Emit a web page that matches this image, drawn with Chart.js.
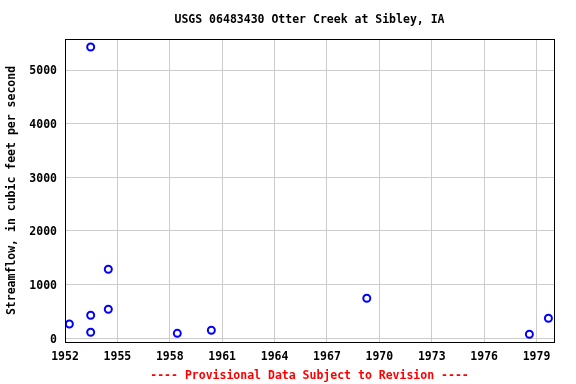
<!DOCTYPE html>
<html>
<head>
<meta charset="utf-8">
<script src="https://cdn.jsdelivr.net/npm/chart.js@4/dist/chart.umd.min.js"></script>
<style>
  body { margin: 0; background: #fff; }
  #peakcanvas { display: block; }
</style>
</head>
<body>
<canvas id="peakcanvas" width="576" height="384"></canvas>
<script>
// peak streamflow, water year (decimal) and cfs
const peakYears = [1952.25, 1953.47, 1953.47, 1953.47, 1954.48, 1954.48, 1958.43, 1960.38, 1969.28, 1978.59, 1979.68];
const peakFlows = [267, 5429, 429, 112, 1287, 541, 93, 149, 746, 75, 373];
const yearTicks = [1952, 1955, 1958, 1961, 1964, 1967, 1970, 1973, 1976, 1979];
const flowTicks = [0, 1000, 2000, 3000, 4000, 5000];

const chartTitle = "USGS 06483430 Otter Creek at Sibley, IA";
const yTitle = "Streamflow, in cubic feet per second";
const footNote = "---- Provisional Data Subject to Revision ----";

const monoFont = '"DejaVu Sans Mono", monospace';

// frame + texts drawn by hand
const framePlugin = {
    id: 'frame',
    afterDraw: function(chart) {
        let ctx = chart.ctx;
        let a = chart.chartArea;
        ctx.save();
        ctx.strokeStyle = '#000';
        ctx.lineWidth = 1;
        ctx.strokeRect(a.left + 0.5, a.top + 0.5, a.right - a.left, a.bottom - a.top);

        let cx = (a.left + a.right) / 2;
        ctx.font = 'bold 11.5px ' + monoFont;
        ctx.textAlign = 'center';
        ctx.textBaseline = 'middle';
        ctx.fillStyle = '#000';
        ctx.fillText(chartTitle, cx, 20);

        ctx.fillStyle = '#ff0000';
        ctx.fillText(footNote, cx, 376);

        ctx.fillStyle = '#000';
        ctx.translate(12, (a.top + a.bottom) / 2);
        ctx.rotate(-Math.PI / 2);
        ctx.fillText(yTitle, 0, 0);
        ctx.restore();
    }
};

function createPeakChart() {
    let points = peakYears.map(function(yr, i) {
        return { x: yr, y: peakFlows[i] };
    });

    let peakCanvas = document.getElementById('peakcanvas').getContext('2d');
    let peakChart = new Chart(peakCanvas, {
        type: 'scatter',
        data: {
            datasets: [{
                data: points,
                pointStyle: 'circle',
                pointRadius: 3.5,
                pointBorderWidth: 2,
                borderColor: '#0000ff',
                backgroundColor: 'rgba(0,0,0,0)'
            }]
        },
        options: {
            responsive: false,
            animation: false,
            devicePixelRatio: 1,
            layout: { padding: { top: 39, right: 22, bottom: 0, left: 0 } },
            plugins: {
                legend: { display: false },
                tooltip: { enabled: false }
            },
            scales: {
                x: {
                    type: 'linear',
                    min: 1952,
                    max: 1980,
                    afterBuildTicks: function(scale) {
                        scale.ticks = yearTicks.map(function(v) { return { value: v }; });
                    },
                    afterFit: function(scale) { scale.height = 42; },
                    grid: { color: '#cccccc', lineWidth: 1, drawTicks: false },
                    border: { display: false },
                    ticks: {
                        padding: 8,
                        color: '#000',
                        maxRotation: 0,
                        autoSkip: false,
                        font: { family: monoFont, size: 11.5, weight: 'bold' },
                        callback: function(v) { return String(v); }
                    }
                },
                y: {
                    type: 'linear',
                    min: -69,
                    max: 5578,
                    afterBuildTicks: function(scale) {
                        scale.ticks = flowTicks.map(function(v) { return { value: v }; });
                    },
                    afterFit: function(scale) { scale.width = 65; },
                    grid: { color: '#cccccc', lineWidth: 1, drawTicks: false },
                    border: { display: false },
                    ticks: {
                        padding: 8,
                        labelOffset: 1.5,
                        color: '#000',
                        autoSkip: false,
                        font: { family: monoFont, size: 11.5, weight: 'bold' },
                        callback: function(v) { return String(v); }
                    }
                }
            }
        },
        plugins: [framePlugin]
    });
    return peakChart;
}

createPeakChart();
</script>
</body>
</html>
